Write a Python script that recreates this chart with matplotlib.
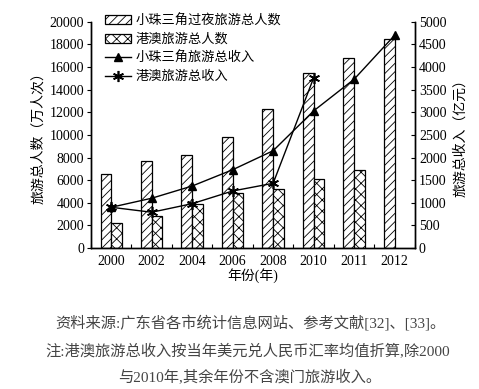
import matplotlib.pyplot as plt
import numpy as np

plt.rcParams['font.family'] = ['Liberation Serif', 'Noto Sans CJK SC']
plt.rcParams['hatch.linewidth'] = 0.6

# data
years = ['2000', '2002', '2004', '2006', '2008', '2010', '2011', '2012']
prd_visitors = [6550, 7650, 8250, 9850, 12300, 15450, 16800, 18500]    # 小珠三角过夜旅游总人数
hkmo_visitors = [2230, 2820, 3900, 4870, 5200, 6140, 6930, None]       # 港澳旅游总人数
prd_income = [900, 1100, 1370, 1730, 2150, 3030, 3730, 4700]           # 小珠三角旅游总收入
hkmo_income = [900, 790, 980, 1260, 1430, 3760]                        # 港澳旅游总收入 (2000-2010)

fig = plt.figure(figsize=(4.79, 3.89), dpi=100)
ax = fig.add_axes([0.19, 0.3625, 0.676, 0.5815])
ax2 = ax.twinx()

x = np.arange(len(years))
w = 0.265

# bars
b1 = ax.bar(x - w, prd_visitors, width=w, align='edge', color='white',
            edgecolor='black', linewidth=0.9, hatch='////',
            label='小珠三角过夜旅游总人数')
hk_x = [xi for xi, v in zip(x, hkmo_visitors) if v is not None]
hk_v = [v for v in hkmo_visitors if v is not None]
b2 = ax.bar(hk_x, hk_v, width=w, align='edge', color='white',
            edgecolor='black', linewidth=0.9, hatch='xxx',
            label='港澳旅游总人数')

# lines
l1, = ax2.plot(x, prd_income, color='black', linewidth=1.0, marker='^',
               markersize=6, label='小珠三角旅游总收入')
l2, = ax2.plot(x[:len(hkmo_income)], hkmo_income, color='black', linewidth=1.0,
               marker=(6, 2, 0), markersize=8, markeredgewidth=1.2,
               label='港澳旅游总收入')

ax.set_xlim(-0.5, len(years) - 0.5)
ax.set_ylim(0, 20000)
ax2.set_ylim(0, 5000)
ax.set_yticks(np.arange(0, 20001, 2000))
ax2.set_yticks(np.arange(0, 5001, 500))

ax.set_xticks(x)
ax.set_xticklabels(years)
ax.set_xticks(np.arange(-0.5, len(years), 1), minor=True)
ax.tick_params(axis='x', which='major', length=0, labelsize=10, pad=5)
ax.tick_params(axis='x', which='minor', direction='in', length=3, width=0.8)
ax.tick_params(axis='y', direction='out', length=3, width=0.8, labelsize=10, pad=2)
ax2.tick_params(axis='y', direction='in', length=3, width=0.8, labelsize=10, pad=3)

for a in (ax, ax2):
    a.spines['top'].set_visible(False)
    for s in ('left', 'right', 'bottom'):
        a.spines[s].set_linewidth(1.0)

ax.set_ylabel('旅游总人数（万人次）', fontsize=10, labelpad=3)
ax2.set_ylabel('旅游总收入（亿元）', fontsize=10, labelpad=5, rotation=90)
ax.set_xlabel('年份(年)', fontsize=10, labelpad=0)

ax2.legend(handles=[b1, b2, l1, l2], loc='upper left',
           bbox_to_anchor=(0.208, 0.977), bbox_transform=fig.transFigure,
           frameon=False, fontsize=9.5, handlelength=2.0, handleheight=0.7,
           handletextpad=0.3, labelspacing=0.45, borderaxespad=0)

cap = dict(ha='center', va='center', fontsize=11, color='#444444')
fig.text(0.522, 0.17, '资料来源:广东省各市统计信息网站、参考文献[32]、[33]。', **cap)
fig.text(0.517, 0.095, '注:港澳旅游总收入按当年美元兑人民币汇率均值折算,除2000', **cap)
fig.text(0.522, 0.028, '与2010年,其余年份不含澳门旅游收入。', **cap)

fig.savefig('out.png', dpi=100)
